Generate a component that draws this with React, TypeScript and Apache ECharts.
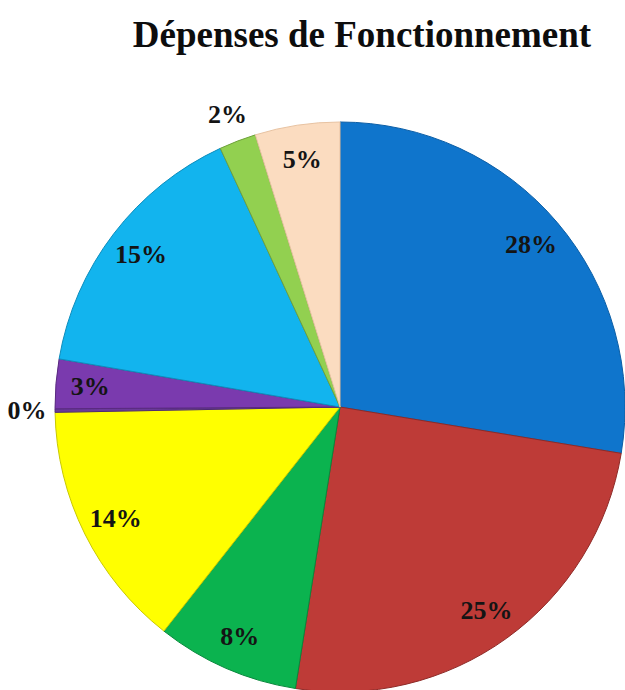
import React, { useEffect, useRef } from "react";
import * as echarts from "echarts";

const categories = ["A", "B", "C", "D", "E", "F", "G", "H", "I"];
const values = [27.6, 24.9, 8.1, 14.1, 0.2, 2.8, 15.4, 2.1, 4.8];
const colors = ["#0F75CC", "#BE3B37", "#0BB34F", "#FFFF00", "#6A3A9A", "#7A3AAE", "#12B4EE", "#92D050", "#FBDCC0"];
const borders = ["#0B5EA6", "#8E2A27", "#08893C", "#C9C900", "#4E2A74", "#5A2A80", "#0E8DBC", "#6FA23C", "#E8C3A2"];
const outsideLabel = [false, false, false, false, true, false, false, true, false];
const title = "Dépenses de Fonctionnement";

export default function App() {
  const ref = useRef<HTMLDivElement>(null);
  useEffect(() => {
    if (!ref.current) return;
    const chart = echarts.init(ref.current, undefined, { renderer: "svg" });
    const center = [340, 407];
    const labelStyle = {
      fontFamily: "Liberation Serif",
      fontWeight: "bold" as const,
      fontSize: 26,
      color: "#141414",
    };
    const fmt = (p: any) => Math.round(p.percent) + "%";
    chart.setOption({
      animation: false,
      backgroundColor: "#ffffff",
      title: {
        text: title,
        left: 357,
        top: 11,
        textAlign: "center",
        textStyle: {
          fontFamily: "Liberation Serif",
          fontWeight: "bold",
          fontSize: 37,
          color: "#0d0d0d",
        },
      },
      series: [
        {
          type: "pie",
          center,
          radius: [0, 285],
          startAngle: 90,
          clockwise: true,
          label: { show: false },
          labelLine: { show: false },
          silent: true,
          data: categories.map((c, i) => ({
            name: c,
            value: values[i],
            itemStyle: { color: colors[i], borderColor: borders[i], borderWidth: 1 },
          })),
        },
        {
          type: "pie",
          center,
          radius: [205, 290],
          startAngle: 90,
          clockwise: true,
          silent: true,
          avoidLabelOverlap: false,
          itemStyle: { color: "rgba(0,0,0,0)" },
          labelLine: { show: false },
          data: categories.map((c, i) => ({
            name: c,
            value: values[i],
            label: { show: !outsideLabel[i], position: "inside", formatter: fmt, ...labelStyle },
          })),
        },
        {
          type: "pie",
          center,
          radius: [280, 340],
          startAngle: 90,
          clockwise: true,
          silent: true,
          avoidLabelOverlap: false,
          itemStyle: { color: "rgba(0,0,0,0)" },
          labelLine: { show: false },
          data: categories.map((c, i) => ({
            name: c,
            value: values[i],
            label: { show: outsideLabel[i], position: "inside", formatter: fmt, ...labelStyle },
          })),
        },
      ],
    });
    return () => chart.dispose();
  }, []);
  return (
    <div
      ref={ref}
      style={{ position: "fixed", left: 0, top: 0, width: 625, height: 690 }}
    />
  );
}
